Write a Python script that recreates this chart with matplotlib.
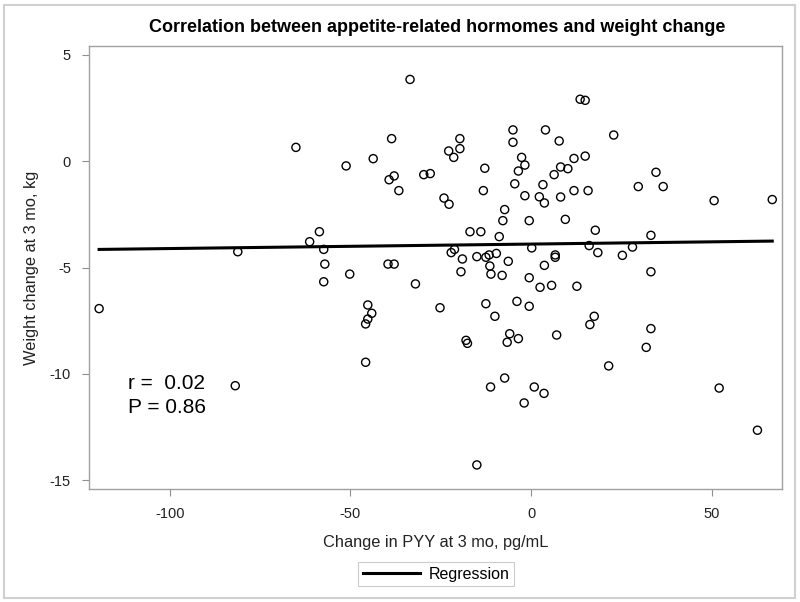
import matplotlib
matplotlib.use("Agg")
import matplotlib.pyplot as plt
from matplotlib.lines import Line2D
from matplotlib.patches import Rectangle

plt.rcParams['font.family'] = ['Liberation Sans', 'DejaVu Sans']

# Change in PYY (pg/mL) and weight change (kg)
pyy_change = [
    -65.1, -58.6, -61.3, -57.4, -81.2, -57.1, -119.6, -57.4, -81.9,
    -33.5, -51.2, -43.7, -38.6, -37.9, -39.3, -36.6, -29.7, -27.9,
    -22.8, -21.4, -19.7, -19.7, -24.1, -22.7, -12.8, -13.2, -16.9, -13.9,
    -8.8, -7.3, -7.8, -5.0, -5.0, -2.6, -1.7, -3.5, -4.5, -1.7, -0.5,
    4.0, 3.3, 2.3, 3.7, 0.2, -39.6, -37.9, -22.1, -21.2, -19.0, -15.0,
    -12.5, -11.6, -9.6, -6.3, 3.7, -11.4, -19.4,
    13.6, 15.0, 7.8, 22.9, 11.9, 15.0, 8.2, 10.2, 6.4, 8.2, 11.9, 15.8,
    34.6, 29.7, 36.6, 50.7, 66.8, 9.5, 17.8, 33.2, 16.1, 18.5, 28.1, 25.3,
    6.7, 6.7, 33.2, 2.5, 5.7, 12.7, 17.5, 16.3, 33.2, 31.9, 7.1, 21.5,
    3.6, 52.1, 62.7,
    -50.2, -32.0, -45.2, -44.1, -45.2, -45.8, -45.8, -25.2, -11.1, -8.0,
    -0.5, -12.5, -10.0, -3.9, -0.5, -18.0, -17.6, -5.9, -6.6, -3.5, -7.3,
    -11.2, 0.9, -1.9, -15.0,
]
weight_change = [
    0.64, -3.32, -3.79, -4.15, -4.26, -4.84, -6.93, -5.67, -10.55,
    3.83, -0.23, 0.11, 1.05, -0.70, -0.88, -1.39, -0.64, -0.59,
    0.47, 0.17, 1.05, 0.58, -1.74, -2.03, -0.34, -1.39, -3.32, -3.32,
    -3.55, -2.28, -2.80, 1.46, 0.88, 0.17, -0.19, -0.47, -1.07, -1.63, -2.80,
    1.46, -1.11, -1.68, -1.97, -4.08, -4.84, -4.84, -4.30, -4.15, -4.60, -4.49,
    -4.52, -4.41, -4.34, -4.71, -4.90, -4.93, -5.20,
    2.90, 2.85, 0.94, 1.22, 0.12, 0.23, -0.28, -0.36, -0.64, -1.69, -1.39, -1.39,
    -0.53, -1.20, -1.20, -1.86, -1.81, -2.74, -3.25, -3.49, -3.97, -4.30, -4.04, -4.43,
    -4.41, -4.52, -5.20, -5.93, -5.84, -5.88, -7.29, -7.68, -7.87, -8.75, -8.17, -9.62,
    -10.91, -10.66, -12.64,
    -5.31, -5.77, -6.76, -7.15, -7.42, -7.65, -9.45, -6.89, -5.31, -5.37,
    -5.48, -6.70, -7.29, -6.59, -6.82, -8.42, -8.56, -8.11, -8.51, -8.34, -10.19,
    -10.61, -10.61, -11.36, -14.27,
]

reg_intercept = -3.90
reg_slope = 0.0021

x_ticks = [-100, -50, 0, 50]
y_ticks = [-15, -10, -5, 0, 5]

title = "Correlation between appetite-related hormomes and weight change"
xlabel = "Change in PYY at 3 mo, pg/mL"
ylabel = "Weight change at 3 mo, kg"
stats_text = "r =  0.02\nP = 0.86"

fig = plt.figure(figsize=(8.0, 6.02), dpi=100)
ax = fig.add_axes([89/800, 1 - 489/602, (782-89)/800, (489-46)/602])

ax.scatter(pyy_change, weight_change, s=34, facecolors='none',
           edgecolors='black', linewidths=1.0, zorder=3)

xmin, xmax = min(pyy_change), max(pyy_change)
ax.plot([xmin, xmax], [reg_intercept + reg_slope * xmin, reg_intercept + reg_slope * xmax],
        color='black', lw=2.2, zorder=4)

ax.set_xlim(-122.4, 69.5)
ax.set_ylim(-15.4, 5.4)
ax.set_xticks(x_ticks)
ax.set_yticks(y_ticks)
ax.set_xticklabels([str(v) for v in x_ticks])
ax.set_yticklabels([str(v) for v in y_ticks])
ax.tick_params(direction='out', length=5, width=0.8, color='#909090',
               labelsize=10.5, labelcolor='#222222', pad=8)
for s in ax.spines.values():
    s.set_color('#a0a0a0')
    s.set_linewidth(1.0)

ax.set_xlabel(xlabel, fontsize=11.8, color='#222222', labelpad=10)
ax.set_ylabel(ylabel, fontsize=11.8, color='#222222', labelpad=8)
fig.text(437/800, 1 - 28/602, title, ha='center', va='center',
         fontsize=13, fontweight='bold', color='black')

ax.text(-111.5, -11.0, stats_text, fontsize=15, ha='left', va='center',
        color='black', linespacing=1.3)

handle = Line2D([], [], color='black', lw=2.2)
leg = fig.legend([handle], ['Regression'], loc='center',
                 bbox_to_anchor=(436/800, 1 - 574/602), fontsize=11.5,
                 frameon=True, fancybox=False, handlelength=3.6,
                 borderpad=0.3, handletextpad=0.5, borderaxespad=0)
leg.get_frame().set_edgecolor('#c0c0c0')
leg.get_frame().set_linewidth(0.8)

fig.patches.append(Rectangle((4/800, 4/602), 791/800, 593/602,
                             transform=fig.transFigure, fill=False,
                             edgecolor='#d0d0d0', lw=1.5))

fig.savefig('out.png', dpi=100)
